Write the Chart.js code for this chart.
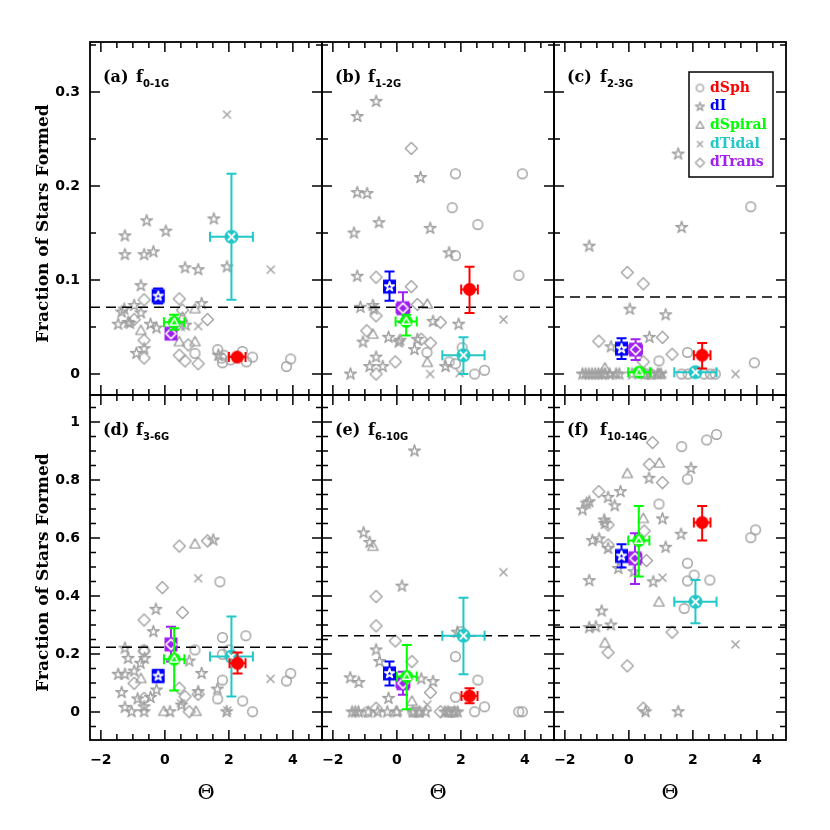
<!DOCTYPE html>
<html>
<head>
<meta charset="utf-8">
<script src="https://cdn.jsdelivr.net/npm/chart.js@4.4.1/dist/chart.umd.min.js"></script>
<style>
  body { margin: 0; background: #fff; }
  #wrap { position: relative; width: 830px; height: 830px; }
  #wrap canvas { position: absolute; left: 0; top: 0; }
</style>
</head>
<body>
<div id="wrap"></div>
<script>
// ---- categories ----
const catNames = ['dSph', 'dI', 'dSpiral', 'dTidal', 'dTrans'];
const catColors = ['#ff0000', '#0000ff', '#00ff00', '#22c8c8', '#a020f0'];
const GREY = '#a0a0a0';

// ---- panel labels ----
const panelTags = ['(a)', '(b)', '(c)', '(d)', '(e)', '(f)'];
const panelSubs = ['0-1G', '1-2G', '2-3G', '3-6G', '6-10G', '10-14G'];
const dashY = [0.071, 0.071, 0.082, 0.223, 0.263, 0.292];

// ---- axis ranges / ticks ----
const xRange = [-2.34, 4.91];
const yRangeTop = [-0.0223, 0.3532];
const yRangeBottom = [-0.0966, 1.093];

// ---- panel (a) f0-1G : [theta, fraction] ----
const aSph = [[0.94,0.022],[1.65,0.026],[1.77,0.017],[1.8,0.012],[2.42,0.024],[2.55,0.013],[2.74,0.018],[3.93,0.016],[3.8,0.008],[2.05,0.015],[1.85,0.02]];
const aIrr = [[-1.25,0.147],[-1.25,0.127],[-0.57,0.163],[-0.65,0.127],[-0.36,0.13],[0.03,0.152],[0.63,0.113],[1.04,0.111],[1.53,0.165],[1.94,0.114],[-0.75,0.094],[-0.96,0.073],[-1.35,0.066],[-1.27,0.069],[-1.46,0.053],[-1.09,0.054],[-0.75,0.065],[-0.45,0.053],[-0.26,0.049],[1.15,0.075],[-0.89,0.022],[-0.65,0.027],[1.67,0.02],[-1.15,0.055],[0.65,0.052]];
const aSpi = [[-0.75,0.046],[0.94,0.069],[0.94,0.034],[0.45,0.034],[0.55,0.06]];
const aTid = [[1.94,0.276],[3.31,0.111],[1.04,0.051],[0.5,0.05]];
const aTra = [[-0.65,0.079],[0.45,0.08],[-0.96,0.058],[-0.65,0.036],[-0.65,0.017],[0.45,0.02],[0.63,0.014],[1.04,0.011],[0.73,0.031],[1.33,0.058],[0.55,0.068]];
// means: [theta, f, thetaErr, fLow, fHigh] for dSph, dI, dSpiral, dTidal, dTrans
const aMean = [[2.26,0.018,0.26,0.016,0.02],[-0.21,0.083,0.16,0.075,0.091],[0.29,0.055,0.32,0.047,0.063],[2.08,0.146,0.67,0.079,0.213],[0.19,0.043,0.15,0.039,0.047]];

// ---- panel (b) f1-2G ----
const bSph = [[1.83,0.213],[3.92,0.213],[1.73,0.177],[2.53,0.159],[1.83,0.126],[3.81,0.105],[2.04,0.028],[0.94,0.023],[1.63,0.013],[1.83,0.011],[2.43,0.0],[2.74,0.004]];
const bIrr = [[-0.65,0.29],[-1.24,0.274],[-1.24,0.193],[-0.93,0.192],[-0.56,0.161],[-1.34,0.15],[0.74,0.209],[1.04,0.155],[1.63,0.129],[-1.24,0.104],[-1.14,0.071],[-0.75,0.073],[-0.72,0.069],[-1.06,0.034],[-0.26,0.039],[0.06,0.034],[0.64,0.037],[0.55,0.026],[1.13,0.056],[1.93,0.053],[-0.65,0.018],[-0.85,0.008],[-0.44,0.008],[-1.45,0.0],[1.52,0.008],[0.1,0.036]];
const bSpi = [[-0.75,0.042],[0.95,0.074],[0.95,0.012]];
const bTid = [[3.33,0.058],[1.04,0.0],[1.96,0.001]];
const bTra = [[0.45,0.24],[-0.65,0.103],[0.45,0.093],[0.64,0.074],[-0.65,0.062],[-0.94,0.046],[1.36,0.055],[1.05,0.033],[0.76,0.037],[-0.05,0.013],[-0.65,0.0]];
const bMean = [[2.27,0.09,0.26,0.065,0.114],[-0.23,0.093,0.16,0.078,0.109],[0.29,0.056,0.33,0.041,0.063],[2.08,0.02,0.66,0.0,0.039],[0.19,0.07,0.2,0.055,0.087]];

// ---- panel (c) f2-3G ----
const cSph = [[3.81,0.178],[1.83,0.023],[0.94,0.014],[3.92,0.012],[1.65,0],[1.85,0],[2.35,0],[2.55,0],[2.7,0],[0.55,0],[0.7,0]];
const cIrr = [[1.54,0.234],[1.65,0.156],[-1.24,0.136],[0.03,0.069],[1.15,0.063],[0.64,0.039],[-0.56,0.029],[-1.45,0],[-1.35,0],[-1.25,0],[-1.15,0],[-1.05,0],[-0.95,0],[-0.85,0],[-0.75,0],[-0.6,0],[-0.4,0],[-0.3,0],[0.1,0],[0.5,0],[0.7,0],[0.9,0],[1.0,0]];
const cSpi = [[-0.75,0.006],[-0.75,0],[0.95,0],[0.45,0]];
const cTid = [[3.33,0],[0.85,0],[1.05,0],[-0.5,0]];
const cTra = [[-0.05,0.108],[0.45,0.096],[-0.94,0.035],[1.05,0.039],[1.35,0.021],[0.45,0.013]];
const cMean = [[2.29,0.02,0.26,0.006,0.033],[-0.23,0.027,0.16,0.016,0.038],[0.32,0.002,0.34,0.0,0.004],[2.08,0.002,0.66,0.0,0.004],[0.21,0.026,0.2,0.015,0.037]];

// ---- panel (d) f3-6G ----
const dSph = [[1.72,0.449],[2.53,0.263],[1.8,0.257],[0.94,0.214],[2.0,0.214],[1.8,0.199],[-0.65,0.214],[1.8,0.11],[3.93,0.133],[3.8,0.107],[1.65,0.045],[2.43,0.038],[2.74,0.001]];
const dIrr = [[1.51,0.593],[-0.28,0.354],[-0.36,0.277],[-1.25,0.22],[-1.15,0.185],[-0.96,0.141],[-0.76,0.168],[-0.63,0.185],[-1.46,0.13],[-1.25,0.13],[-1.35,0.067],[-1.25,0.016],[-1.04,0.001],[-0.85,0.045],[-0.65,0.018],[-0.65,0.001],[-0.26,0.076],[0.16,0.001],[0.52,0.024],[0.76,0.176],[1.15,0.133],[1.04,0.07],[1.64,0.079],[1.93,0.001],[-0.45,0.05]];
const dSpi = [[0.94,0.578],[-0.75,0.114],[-0.03,0.001],[0.97,0.001]];
const dTid = [[1.04,0.461],[3.3,0.114],[1.95,0.005],[0.5,0.03]];
const dTra = [[0.45,0.572],[-0.08,0.429],[0.55,0.343],[-0.65,0.317],[1.33,0.59],[-0.96,0.099],[-0.65,0.047],[0.45,0.082],[0.63,0.053],[1.04,0.061],[0.76,0.001],[-0.65,0.21]];
const dMean = [[2.27,0.168,0.25,0.133,0.205],[-0.21,0.124,0.12,0.104,0.144],[0.29,0.182,0.32,0.074,0.289],[2.08,0.191,0.67,0.053,0.329],[0.19,0.233,0.15,0.174,0.294]];

// ---- panel (e) f6-10G ----
const eSph = [[2.01,0.277],[1.83,0.191],[2.53,0.11],[1.83,0.051],[2.74,0.018],[2.43,0.001],[3.81,0.001],[3.92,0.001],[0.5,0],[0.6,0],[0.7,0],[1.6,0],[1.7,0],[1.8,0],[-0.93,0]];
const eIrr = [[0.55,0.9],[-1.04,0.618],[-0.85,0.585],[0.16,0.434],[-0.65,0.214],[-0.54,0.174],[-1.46,0.118],[-1.19,0.102],[-0.26,0.047],[0.76,0.114],[1.13,0.105],[1.89,0.275],[-1.4,0],[-1.3,0],[-1.2,0],[-0.9,0],[-0.6,0],[-0.3,0],[0.0,0],[0.5,0],[0.7,0],[0.9,0],[1.5,0],[1.6,0],[1.8,0],[1.9,0]];
const eSpi = [[-0.75,0.57],[0.47,0.036],[-0.02,0.001]];
const eTid = [[3.33,0.482],[0.95,0.025]];
const eTra = [[-0.65,0.398],[-0.65,0.297],[-0.05,0.245],[0.47,0.174],[1.05,0.067],[-0.65,0.013],[1.36,0.001]];
const eMean = [[2.27,0.055,0.25,0.03,0.082],[-0.23,0.133,0.16,0.091,0.174],[0.31,0.122,0.31,0.009,0.231],[2.08,0.263,0.66,0.13,0.394],[0.19,0.099,0.2,0.059,0.139]];

// ---- panel (f) f10-14G ----
const fSph = [[2.43,0.938],[2.74,0.957],[1.65,0.915],[1.83,0.803],[0.94,0.717],[1.83,0.513],[2.04,0.472],[1.83,0.452],[2.53,0.455],[1.73,0.357],[3.96,0.628],[3.81,0.601]];
const fIrr = [[1.94,0.84],[0.63,0.806],[-0.26,0.76],[-0.65,0.74],[-0.44,0.711],[-1.45,0.697],[-1.32,0.72],[-1.24,0.725],[-0.77,0.662],[1.05,0.666],[-1.14,0.591],[-0.93,0.597],[-0.65,0.564],[1.15,0.568],[1.63,0.613],[-0.33,0.495],[-1.24,0.453],[0.16,0.484],[0.76,0.449],[-0.85,0.348],[-1.24,0.291],[-1.03,0.294],[-0.56,0.3],[0.52,0.001],[1.54,0.001],[-0.75,0.65]];
const fSpi = [[0.95,0.857],[-0.05,0.821],[0.45,0.666],[0.94,0.378],[-0.75,0.237]];
const fTid = [[1.05,0.463],[3.33,0.233]];
const fTra = [[0.74,0.929],[0.64,0.854],[1.05,0.791],[-0.94,0.76],[-0.65,0.645],[0.48,0.624],[-0.65,0.576],[0.55,0.522],[1.35,0.275],[-0.65,0.205],[-0.05,0.159],[0.45,0.013]];
const fMean = [[2.29,0.653,0.26,0.591,0.71],[-0.23,0.538,0.16,0.498,0.578],[0.31,0.591,0.33,0.467,0.71],[2.08,0.38,0.66,0.306,0.455],[0.19,0.53,0.2,0.441,0.616]];

const panelGrey = [
  [aSph, aIrr, aSpi, aTid, aTra], [bSph, bIrr, bSpi, bTid, bTra], [cSph, cIrr, cSpi, cTid, cTra],
  [dSph, dIrr, dSpi, dTid, dTra], [eSph, eIrr, eSpi, eTid, eTra], [fSph, fIrr, fSpi, fTid, fTra]
];
const panelMeans = [aMean, bMean, cMean, dMean, eMean, fMean];

// ---- layout of the 3x2 grid ----
const colL = [90, 322, 554], colR = [322, 554, 786];
const rowT = [42, 395], rowB = [395, 740];
const Y_AXIS_W = 60, X_AXIS_H = 40;

// ---- marker images ----
function markerCanvas(size, draw) {
  const c = document.createElement('canvas');
  c.width = size; c.height = size;
  const g = c.getContext('2d');
  g.translate(size / 2, size / 2);
  g.lineJoin = 'round';
  draw(g);
  return c;
}
function starPath(g, R, r) {
  g.beginPath();
  for (let k = 0; k < 10; k++) {
    const a = -Math.PI / 2 + k * Math.PI / 5, rad = k % 2 ? r : R;
    g.lineTo(rad * Math.cos(a), rad * Math.sin(a));
  }
  g.closePath();
}
function shapePath(g, kind, s) {
  g.beginPath();
  if (kind === 0) g.arc(0, 0, 4.8 * s, 0, Math.PI * 2);
  else if (kind === 1) starPath(g, 6.2 * s, 2.2 * s);
  else if (kind === 2) { g.moveTo(0, -5.6 * s); g.lineTo(5.2 * s, 3.6 * s); g.lineTo(-5.2 * s, 3.6 * s); g.closePath(); }
  else if (kind === 3) { const d = 4 * s; g.moveTo(-d, -d); g.lineTo(d, d); g.moveTo(d, -d); g.lineTo(-d, d); }
  else { const d = 6 * s; g.moveTo(0, -d); g.lineTo(d, 0); g.lineTo(0, d); g.lineTo(-d, 0); g.closePath(); }
}
function greyMarker(kind, s) {
  return markerCanvas(17, g => {
    g.strokeStyle = GREY; g.lineWidth = 1.4;
    shapePath(g, kind, s); g.stroke();
  });
}
function meanMarker(kind) {
  const col = catColors[kind];
  return markerCanvas(19, g => {
    g.fillStyle = col;
    if (kind === 1 || kind === 4) g.fillRect(-6.5, -7, 13, 14);
    else { g.beginPath(); g.arc(0, 0, kind === 3 ? 7 : 6.5, 0, Math.PI * 2); g.fill(); }
    g.strokeStyle = '#fff'; g.lineWidth = 1.6;
    if (kind === 1) { shapePath(g, 1, 0.8); g.stroke(); }
    if (kind === 2) { shapePath(g, 2, 0.75); g.stroke(); }
    if (kind === 3) { shapePath(g, 3, 0.9); g.lineWidth = 2; g.stroke(); }
    if (kind === 4) {
      shapePath(g, 4, 0.85); g.stroke();
      g.fillStyle = col; g.beginPath(); g.arc(0, 0, 1.8, 0, Math.PI * 2); g.fill();
    }
  });
}
const greyMarks = [0, 1, 2, 3, 4].map(k => greyMarker(k, 1));
const legendMarks = [0, 1, 2, 3, 4].map(k => greyMarker(k, 0.75));
const meanMarks = [0, 1, 2, 3, 4].map(k => meanMarker(k));

// ---- drawing helpers ----
function drawErr(chart, m, color) {
  const xs = chart.scales.x, ys = chart.scales.y, g = chart.ctx;
  const px = xs.getPixelForValue(m[0]), py = ys.getPixelForValue(m[1]);
  const xl = xs.getPixelForValue(m[0] - m[2]), xr = xs.getPixelForValue(m[0] + m[2]);
  const yl = ys.getPixelForValue(m[3]), yh = ys.getPixelForValue(m[4]);
  const c = 5;
  g.save();
  g.strokeStyle = color; g.lineWidth = 2;
  g.beginPath();
  g.moveTo(xl, py); g.lineTo(xr, py);
  g.moveTo(xl, py - c); g.lineTo(xl, py + c);
  g.moveTo(xr, py - c); g.lineTo(xr, py + c);
  g.moveTo(px, yl); g.lineTo(px, yh);
  g.moveTo(px - c, yl); g.lineTo(px + c, yl);
  g.moveTo(px - c, yh); g.lineTo(px + c, yh);
  g.stroke();
  g.restore();
}

function drawTicks(g, scale, a, minor, major, horizontal) {
  const start = Math.ceil((scale.min - 1e-9) / minor) * minor;
  for (let v = start; v <= scale.max + 1e-9; v += minor) {
    const isMajor = Math.abs(v / major - Math.round(v / major)) < 1e-6;
    const len = isMajor ? 10 : 6;
    const p = scale.getPixelForValue(v);
    g.beginPath();
    if (horizontal) {
      g.moveTo(p, a.bottom); g.lineTo(p, a.bottom - len);
      g.moveTo(p, a.top); g.lineTo(p, a.top + len);
    } else {
      g.moveTo(a.left, p); g.lineTo(a.left + len, p);
      g.moveTo(a.right, p); g.lineTo(a.right - len, p);
    }
    g.stroke();
  }
}

const decoPlugin = {
  id: 'deco',
  beforeDatasetDraw(chart, args) {
    const ds = chart.data.datasets[args.index];
    if (ds.err) drawErr(chart, ds.err, ds.errColor);
  },
  afterDraw(chart) {
    const g = chart.ctx, a = chart.chartArea, o = chart.options.plugins.deco;
    g.save();
    g.strokeStyle = '#000'; g.lineWidth = 1.5;
    drawTicks(g, chart.scales.x, a, 0.5, 2, true);
    drawTicks(g, chart.scales.y, a, 0.05, o.row === 0 ? 0.1 : 0.2, false);
    g.lineWidth = 1.8;
    g.strokeRect(a.left, a.top, a.right - a.left, a.bottom - a.top);

    // panel label
    g.fillStyle = '#000';
    g.textBaseline = 'alphabetic';
    g.font = 'bold 16px "DejaVu Serif"';
    g.fillText(o.tag, a.left + 13, a.top + 40);
    g.fillText('f', a.left + 46, a.top + 40);
    g.font = 'bold 10px "DejaVu Sans"';
    g.fillText(o.sub, a.left + 53, a.top + 45);

    // y title
    if (o.col === 0) {
      g.save();
      g.translate(44, (a.top + a.bottom) / 2 + 5);
      g.rotate(-Math.PI / 2);
      g.textAlign = 'center'; g.textBaseline = 'middle';
      g.font = 'bold 17px "DejaVu Serif"';
      g.fillText('Fraction of Stars Formed', 0, 0);
      g.restore();
    }
    // x title
    if (o.row === 1) {
      g.textAlign = 'center'; g.textBaseline = 'middle';
      g.font = '21px "DejaVu Serif"';
      g.fillText('\u0398', (a.left + a.right) / 2, 794);
    }
    // legend in panel (c)
    if (o.legend) {
      const bx = a.right - 97, by = a.top + 30;
      g.lineWidth = 1.5;
      g.strokeRect(bx, by, 84, 105);
      g.textAlign = 'left'; g.textBaseline = 'middle';
      g.font = 'bold 14px "DejaVu Serif"';
      catNames.forEach((n, k) => {
        const yy = by + 16 + k * 18.7;
        g.drawImage(legendMarks[k], bx + 11 - 8.5, yy - 8.5);
        g.fillStyle = catColors[k];
        g.fillText(n, bx + 21, yy);
      });
    }
    g.restore();
  }
};

const fmt = v => {
  const s = String(+Number(v).toFixed(2));
  return s.replace('-', '\u2212');
};

const wrap = document.getElementById('wrap');
for (let i = 0; i < 6; i++) {
  const col = i % 3, row = Math.floor(i / 3);
  const canvas = document.createElement('canvas');
  canvas.width = 830; canvas.height = 830;
  wrap.appendChild(canvas);
  const yr = row === 0 ? yRangeTop : yRangeBottom;

  const datasets = [];
  panelGrey[i].forEach((pts, k) => datasets.push({
    type: 'scatter',
    data: pts.map(p => ({ x: p[0], y: p[1] })),
    pointStyle: greyMarks[k], pointRadius: 5, order: 3
  }));
  datasets.push({
    type: 'line',
    data: [{ x: xRange[0], y: dashY[i] }, { x: xRange[1], y: dashY[i] }],
    borderColor: '#000', borderWidth: 1.6, borderDash: [10, 6],
    pointRadius: 0, fill: false, order: 2
  });
  panelMeans[i].forEach((m, k) => datasets.push({
    type: 'scatter',
    data: [{ x: m[0], y: m[1] }],
    pointStyle: meanMarks[k], pointRadius: 6, order: 1,
    err: m, errColor: catColors[k]
  }));

  new Chart(canvas, {
    type: 'scatter',
    data: { datasets },
    options: {
      responsive: false, animation: false, devicePixelRatio: 1, events: [],
      layout: { padding: {
        left: colL[col] - Y_AXIS_W,
        right: 830 - colR[col],
        top: rowT[row],
        bottom: 830 - rowB[row] - X_AXIS_H
      } },
      plugins: {
        legend: { display: false }, tooltip: { enabled: false },
        deco: { row, col, tag: panelTags[i], sub: panelSubs[i], legend: i === 2 }
      },
      scales: {
        x: {
          type: 'linear', min: xRange[0], max: xRange[1],
          grid: { display: false, drawTicks: false }, border: { display: false },
          ticks: { display: row === 1, stepSize: 2, includeBounds: false, padding: 12, color: '#000',
                   font: { family: 'DejaVu Sans', size: 14, weight: 'bold' }, callback: fmt },
          afterFit: s => { s.height = X_AXIS_H; }
        },
        y: {
          type: 'linear', min: yr[0], max: yr[1],
          grid: { display: false, drawTicks: false }, border: { display: false },
          ticks: { display: col === 0, stepSize: row === 0 ? 0.1 : 0.2, includeBounds: false, padding: 10, color: '#000',
                   font: { family: 'DejaVu Sans', size: 14, weight: 'bold' }, callback: fmt },
          afterFit: s => { s.width = Y_AXIS_W; }
        }
      }
    },
    plugins: [decoPlugin]
  });
}
</script>
</body>
</html>
